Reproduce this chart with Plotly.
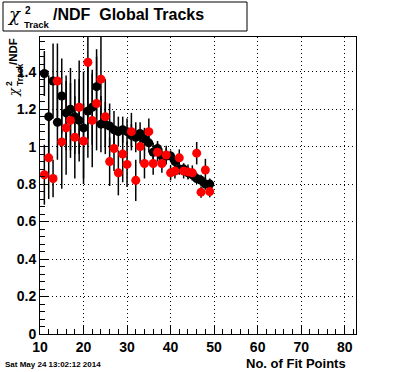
import plotly.graph_objects as go

# ---------------- data ----------------
fit_points = list(range(11, 50))

black_y = [1.39, 1.16, 1.35, 1.13, 1.27, 1.18, 1.20, 1.16, 1.14, 1.10,
           1.19, 1.21, 1.32, 1.12, 1.12, 1.11, 1.09, 1.08, 1.09, 1.08,
           1.06, 1.05, 1.07, 1.04, 1.02, 0.97, 0.99, 0.95, 0.95, 0.95,
           0.92, 0.88, 0.88, 0.86, 0.85, 0.83, 0.82, 0.80, 0.80]
black_err = [0.12, 0.22, 0.20, 0.20, 0.20, 0.20, 0.22, 0.20, 0.22, 0.30,
             0.25, 0.20, 0.20, 0.15, 0.12, 0.12, 0.10, 0.08, 0.07, 0.07,
             0.06, 0.08, 0.06, 0.06, 0.05, 0.05, 0.04, 0.04, 0.04, 0.03,
             0.03, 0.03, 0.03, 0.03, 0.03, 0.03, 0.03, 0.03, 0.03]

red_y = [0.85, 0.94, 0.83, 1.35, 1.025, 1.10, 1.14, 1.05, 1.21, 1.03,
         1.45, 1.14, 1.23, 1.36, 1.16, 0.92, 0.99, 0.86, 0.96, 0.905,
         1.08, 0.82, 1.00, 0.91, 1.08, 0.91, 0.97, 0.91, 0.955, 0.86,
         0.87, 0.94, 0.87, 0.865, 0.86, 0.965, 0.757, 0.875, 0.76]
red_err = [0.16, 0.22, 0.10, 0.20, 0.25, 0.25, 0.20, 0.22, 0.25, 0.20,
           0.41, 0.25, 0.25, 0.25, 0.20, 0.13, 0.12, 0.12, 0.15, 0.12,
           0.10, 0.11, 0.09, 0.08, 0.07, 0.06, 0.05, 0.05, 0.05, 0.04,
           0.04, 0.045, 0.04, 0.04, 0.04, 0.06, 0.03, 0.06, 0.03]

x_tick_vals = [10, 20, 30, 40, 50, 60, 70, 80]
y_tick_vals = [0, 0.2, 0.4, 0.6, 0.8, 1.0, 1.2, 1.4]
y_tick_text = ["0", "0.2", "0.4", "0.6", "0.8", "1", "1.2", "1.4"]

# ---------------- layout geometry ----------------
W, H = 396, 372
L, R, T, B = 40, 40, 37, 38
PW, PH = W - L - R, H - T - B
FONT = "Liberation Sans"


def px(xp):
    return (xp - L) / PW


def py(yp):
    return (H - B - yp) / PH


fig = go.Figure()

fig.add_trace(go.Scatter(
    x=fit_points, y=black_y, mode="markers",
    marker=dict(color="black", size=9, line=dict(width=0)),
    error_y=dict(type="data", array=black_err, color="black", thickness=1.5, width=0),
    showlegend=False, cliponaxis=True,
))
fig.add_trace(go.Scatter(
    x=fit_points, y=red_y, mode="markers",
    marker=dict(color="#ff0000", size=9, line=dict(width=0)),
    error_y=dict(type="data", array=red_err, color="black", thickness=1.5, width=0),
    showlegend=False, cliponaxis=True,
))

tickfont = dict(family=FONT, size=14, color="black", weight="bold")

fig.update_xaxes(
    range=[10, 82.6], tickvals=x_tick_vals, ticks="inside", ticklen=9,
    tickcolor="black", tickwidth=1,
    minor=dict(dtick=2, ticks="inside", ticklen=5, tickcolor="black", tickwidth=1, showgrid=False),
    showgrid=True, gridcolor="black", gridwidth=1, griddash="1px,3px",
    showline=True, linecolor="black", linewidth=1, mirror=True,
    zeroline=False, tickfont=tickfont,
)
fig.update_yaxes(
    range=[0, 1.585], tickvals=y_tick_vals, ticktext=y_tick_text,
    ticks="inside", ticklen=9, tickcolor="black", tickwidth=1,
    minor=dict(dtick=0.04, tick0=0, ticks="inside", ticklen=5, tickcolor="black", tickwidth=1, showgrid=False),
    showgrid=True, gridcolor="black", gridwidth=1, griddash="1px,3px",
    showline=True, linecolor="black", linewidth=1, mirror=True,
    zeroline=False, tickfont=tickfont,
)

annotations = []


def ann(text, x, y, size, xanchor="center", yanchor="middle", angle=0, bold=True,
        family=FONT, style="normal"):
    annotations.append(dict(
        text=text, x=px(x), y=py(y), xref="paper", yref="paper",
        xanchor=xanchor, yanchor=yanchor, showarrow=False, textangle=angle,
        font=dict(family=family, size=size, color="black",
                  weight="bold" if bold else "normal", style=style),
    ))


# title (stacked super/subscript like ROOT)
ann("χ", 14, 15, 18, bold=False, family="DejaVu Serif", style="italic")
ann("2", 28, 11, 10)
ann("Track", 22, 24, 9.5, xanchor="left")
ann("/NDF  Global Tracks", 51, 15, 16, xanchor="left")

# y-axis title (rotated)
ann("/NDF", 13, 52, 11.5, angle=-90)
ann("Track", 20, 75, 8.5, angle=-90)
ann("2", 9, 84, 8.5, angle=-90)
ann("χ", 13, 92, 13, angle=-90, bold=False, family="DejaVu Serif", style="italic")

# x-axis title
ann("No. of Fit Points", 348, 363, 13, xanchor="right")

# date stamp
ann("Sat May 24 13:02:12 2014", 3, 364, 8, xanchor="left")

shapes = [dict(
    type="rect", xref="paper", yref="paper",
    x0=px(3), x1=px(247), y0=py(31), y1=py(2),
    line=dict(color="black", width=1), fillcolor="white", layer="above",
)]

fig.update_layout(
    width=W, height=H, autosize=False,
    margin=dict(l=L, r=R, t=T, b=B, pad=0),
    paper_bgcolor="white", plot_bgcolor="white",
    showlegend=False, annotations=annotations, shapes=shapes,
    font=dict(family=FONT, color="black"),
)

fig.write_html(
    "out.html",
    config={"displayModeBar": False},
    post_script="document.body.style.margin='0';document.body.style.padding='0';",
)
